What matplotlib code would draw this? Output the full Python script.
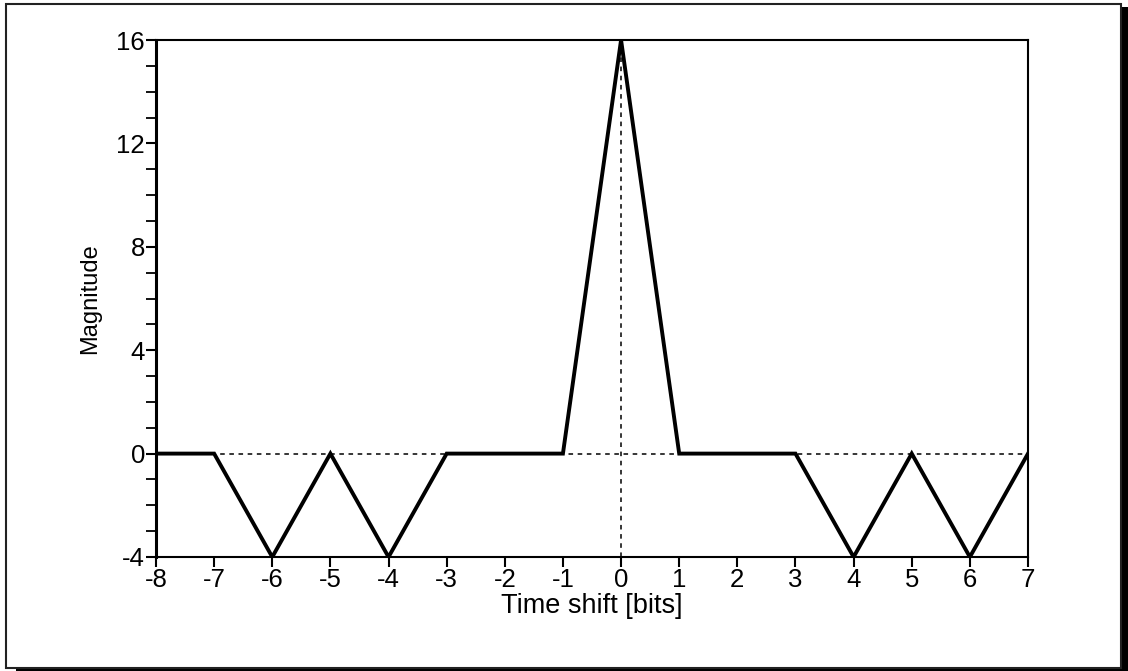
import matplotlib.pyplot as plt
from matplotlib.patches import Rectangle
from matplotlib.ticker import MultipleLocator

plt.rcParams['font.family'] = ['Liberation Sans', 'DejaVu Sans']
plt.rcParams['axes.unicode_minus'] = False

# correlation magnitude against time shift
shift_bits = [-8, -7, -6, -5, -4, -3, -2, -1, 0, 1, 2, 3, 4, 5, 6, 7]
magnitude = [0, 0, -4, 0, -4, 0, 0, 0, 16, 0, 0, 0, -4, 0, -4, 0]
y_ticks = [-4, 0, 4, 8, 12, 16]

fig = plt.figure(figsize=(11.28, 6.71), dpi=100)

# outer frame with a drop shadow
fig.patches.append(Rectangle((16 / 1128, 0), 1112 / 1128, 664 / 671,
                             transform=fig.transFigure, facecolor='black',
                             edgecolor='none', zorder=0))
fig.patches.append(Rectangle((6 / 1128, 3 / 671), 1115 / 1128, 664 / 671,
                             transform=fig.transFigure, facecolor='white',
                             edgecolor='#222222', linewidth=1.5, zorder=1))

ax = fig.add_axes([156 / 1128, 1 - 557 / 671, 872 / 1128, 517 / 671])
ax.set_zorder(2)

ax.axhline(0, color='black', linestyle=(0, (3, 3)), linewidth=1.1)
ax.axvline(0, color='black', linestyle=(0, (3, 3)), linewidth=1.1)
ax.plot(shift_bits, magnitude, color='black', linewidth=2.8, solid_joinstyle='miter')

ax.set_xlim(-8, 7)
ax.set_ylim(-4, 16)
ax.set_xticks(shift_bits)
ax.set_xticklabels([str(v) for v in shift_bits])
ax.set_yticks(y_ticks)
ax.set_yticklabels([str(v) for v in y_ticks])
ax.yaxis.set_minor_locator(MultipleLocator(1))

ax.tick_params(axis='both', which='major', direction='out', length=7, width=1.5,
               labelsize=18.5, pad=1)
ax.tick_params(axis='y', which='minor', direction='out', length=7, width=1.3)
for side in ['left', 'bottom', 'top', 'right']:
    ax.spines[side].set_linewidth(1.5)
ax.spines['left'].set_linewidth(2.2)

ax.set_xlabel('Time shift [bits]', fontsize=19.5, labelpad=0.5)
ax.set_ylabel('Magnitude', fontsize=17, labelpad=11)

fig.savefig('out.png', dpi=100)
